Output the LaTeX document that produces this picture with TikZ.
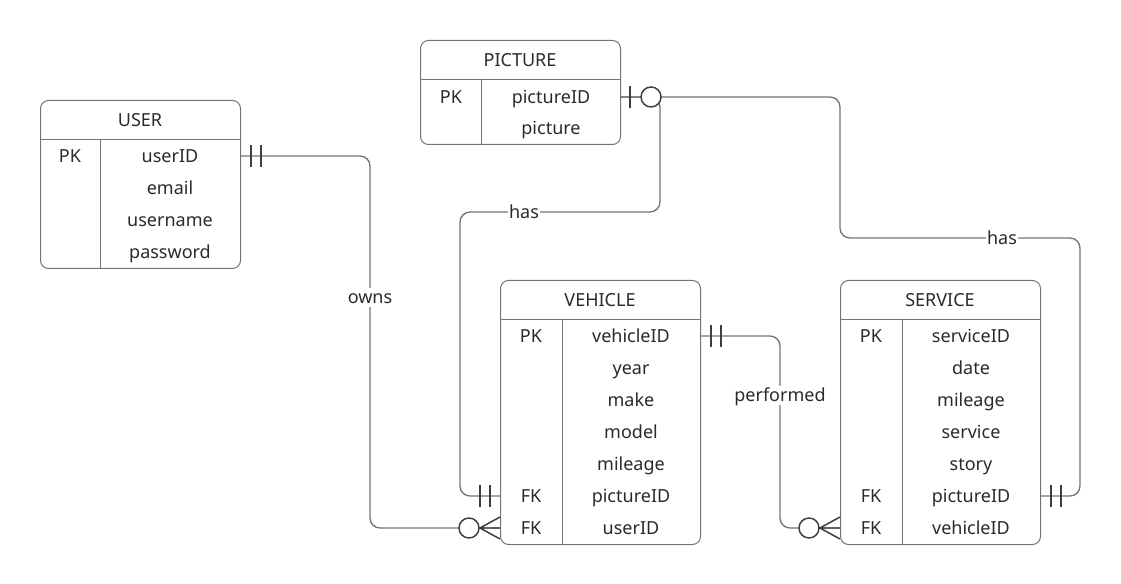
\documentclass[tikz,border=0pt]{standalone}
\usepackage{fontspec}
\setmainfont{Noto Sans}
\definecolor{linegray}{RGB}{112,116,121}
\definecolor{inkdark}{RGB}{40,42,47}
\definecolor{markdark}{RGB}{58,61,66}
\tikzset{every picture/.style={line width=0.75pt}}
\tikzset{
  tbl/.style={draw=linegray, rounded corners=6pt, minimum width=150pt, inner sep=0pt, anchor=north west},
  tbl line/.style={draw=linegray},
  field/.style={text=inkdark, font=\fontsize{13.5}{16}\selectfont, text height=11pt, text depth=1.4pt, inner sep=0pt},
  rel/.style={draw=linegray, line width=1pt, rounded corners=7.5pt},
  lbl/.style={field, fill=white, inner xsep=1pt, inner ysep=1pt},
  endmark/.style={draw=markdark, line width=1.1pt},
  onlyone/.pic={\draw[endmark] (10,-11) -- (10,11) (20,-11) -- (20,11);},
  zeroone/.pic={\draw[endmark] (9,-11) -- (9,11);
    \draw[endmark, fill=white] (30,0) circle[radius=10];},
  zeromany/.pic={\draw[endmark] (0,-11) -- (20,0) -- (0,11) (0,0) -- (20,0);
    \draw[endmark, fill=white] (31,0) circle[radius=10];}
}
\begin{document}
\begin{tikzpicture}[x=0.75pt,y=0.75pt,yscale=-1,xscale=1]
	\useasboundingbox (0,0) rectangle (1121,584);

	% USER
	\node[tbl, minimum height=126pt] (user) at (40,100) {};
	\draw[tbl line] (40,140) -- (240,140) (100,140) -- (100,268);
	\node[field] (u-title) at (140,120) {USER};
	\node[field] (u-pk) at (70,156) {PK};
	\node[field] (u-userID) at (170,156) {userID};
	\node[field] (u-email) at (170,188) {email};
	\node[field] (u-username) at (170,220) {username};
	\node[field] (u-password) at (170,252) {password};

	% PICTURE
	\node[tbl, minimum height=78pt] (picture) at (420,40) {};
	\draw[tbl line] (420,80) -- (620,80) (481,80) -- (481,144);
	\node[field] (p-title) at (520,60) {PICTURE};
	\node[field] (p-pk) at (451,97) {PK};
	\node[field] (p-pictureID) at (551,97) {pictureID};
	\node[field] (p-picture) at (551,128) {picture};

	% VEHICLE
	\node[tbl, minimum height=198pt] (vehicle) at (500,280) {};
	\draw[tbl line] (500,320) -- (700,320) (562,320) -- (562,544);
	\node[field] (v-title) at (600,300) {VEHICLE};
	\node[field] (v-pk) at (531,336) {PK};
	\node[field] (v-vehicleID) at (631,336) {vehicleID};
	\node[field] (v-year) at (631,368) {year};
	\node[field] (v-make) at (631,400) {make};
	\node[field] (v-model) at (631,432) {model};
	\node[field] (v-mileage) at (631,464) {mileage};
	\node[field] (v-fk1) at (531,496) {FK};
	\node[field] (v-pictureID) at (631,496) {pictureID};
	\node[field] (v-fk2) at (531,528) {FK};
	\node[field] (v-userID) at (631,528) {userID};

	% SERVICE
	\node[tbl, minimum height=198pt] (service) at (840,280) {};
	\draw[tbl line] (840,320) -- (1040,320) (902,320) -- (902,544);
	\node[field] (s-title) at (940,300) {SERVICE};
	\node[field] (s-pk) at (871,336) {PK};
	\node[field] (s-serviceID) at (971,336) {serviceID};
	\node[field] (s-date) at (971,368) {date};
	\node[field] (s-mileage) at (971,400) {mileage};
	\node[field] (s-service) at (971,432) {service};
	\node[field] (s-story) at (971,464) {story};
	\node[field] (s-fk1) at (871,496) {FK};
	\node[field] (s-pictureID) at (971,496) {pictureID};
	\node[field] (s-fk2) at (871,528) {FK};
	\node[field] (s-vehicleID) at (971,528) {vehicleID};

	% owns
	\draw[rel] (user.east |- u-userID) -- (370,156) -- node[lbl, pos=0.38] {owns} (370,528) -- (vehicle.west |- v-userID);
	% has (vehicle)
	\draw[rel] (picture.east |- p-pictureID) -- (660,97) -- (660,212) -- node[lbl, pos=0.68] {has} (460,212) -- (460,496) -- (vehicle.west |- v-pictureID);
	% has (service)
	\draw[rel] (picture.east |- p-pictureID) -- (840,97) -- (840,238) -- node[lbl, pos=0.675] {has} (1080,238) -- (1080,496) -- (service.east |- s-pictureID);
	% performed
	\draw[rel] (vehicle.east |- v-vehicleID) -- (780,336) -- node[lbl, pos=0.31] {performed} (780,528) -- (service.west |- s-vehicleID);

	% line ends
	\pic at (user.east |- u-userID) {onlyone};
	\pic[xscale=-1] at (vehicle.west |- v-userID) {zeromany};
	\pic at (picture.east |- p-pictureID) {zeroone};
	\pic[xscale=-1] at (vehicle.west |- v-pictureID) {onlyone};
	\pic at (service.east |- s-pictureID) {onlyone};
	\pic at (vehicle.east |- v-vehicleID) {onlyone};
	\pic[xscale=-1] at (service.west |- s-vehicleID) {zeromany};

\end{tikzpicture}
\end{document}
